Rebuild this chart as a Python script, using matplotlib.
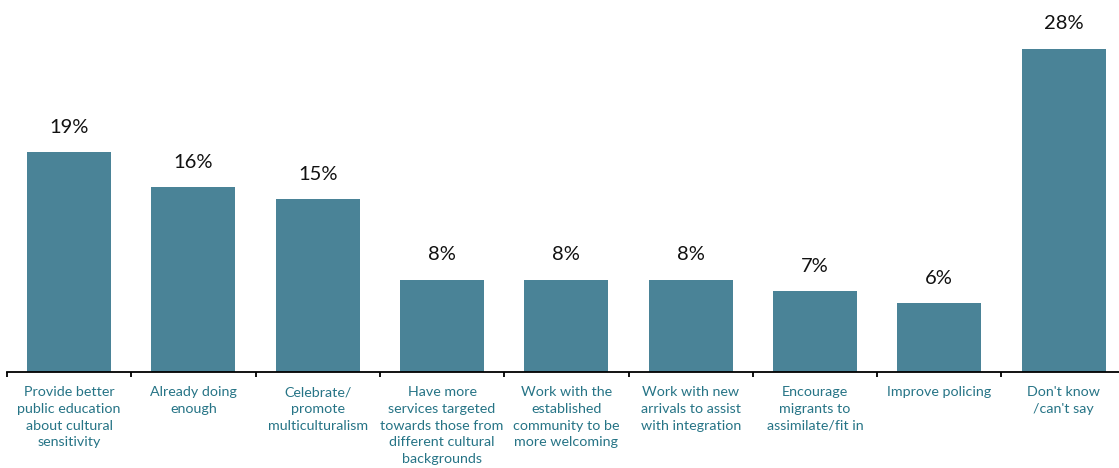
import matplotlib
matplotlib.use("Agg")
import matplotlib.pyplot as plt
import numpy as np

plt.rcParams["font.family"] = ["Lato", "DejaVu Sans"]

cats = ["Provide better\npublic education\nabout cultural\nsensitivity",
        "Already doing\nenough",
        "Celebrate/\npromote\nmulticulturalism",
        "Have more\nservices targeted\ntowards those from\ndifferent cultural\nbackgrounds",
        "Work with the\nestablished\ncommunity to be\nmore welcoming",
        "Work with new\narrivals to assist\nwith integration",
        "Encourage\nmigrants to\nassimilate/fit in",
        "Improve policing",
        "Don't know\n/can't say"]
pct = [19, 16, 15, 8, 8, 8, 7, 6, 28]

BAR = "#4A8397"
LAB = "#267486"

fig = plt.figure(figsize=(11.19, 4.68), dpi=100)
ax = fig.add_axes([7 / 1119, 96 / 468, 1 - 7 / 1119, 372 / 468])
x = np.arange(len(pct))
ax.bar(x, pct, width=0.676, color=BAR)
for xi, v in zip(x, pct):
    ax.text(xi, v + 1.4, f"{v}%", ha="center", va="bottom", fontsize=14.5, color="#111111")

ax.set_xlim(-0.5, 8.446)
ax.set_ylim(0, 32.2)
for s in ["top", "right", "left"]:
    ax.spines[s].set_visible(False)
ax.spines["bottom"].set_linewidth(1.3)
ax.set_yticks([])
ax.set_xticks(x)
ax.set_xticklabels([])
ax.tick_params(axis="x", which="major", length=0)
ax.set_xticks(np.arange(-0.5, 8.5, 1.0), minor=True)
ax.tick_params(axis="x", which="minor", length=3.5, width=1.3, direction="out")

for xi, c in zip(x, cats):
    ax.text(xi, -1.25, c, ha="center", va="top", fontsize=10.3, color=LAB,
            linespacing=1.46, transform=ax.transData, clip_on=False)

fig.savefig("out.png", dpi=100)
